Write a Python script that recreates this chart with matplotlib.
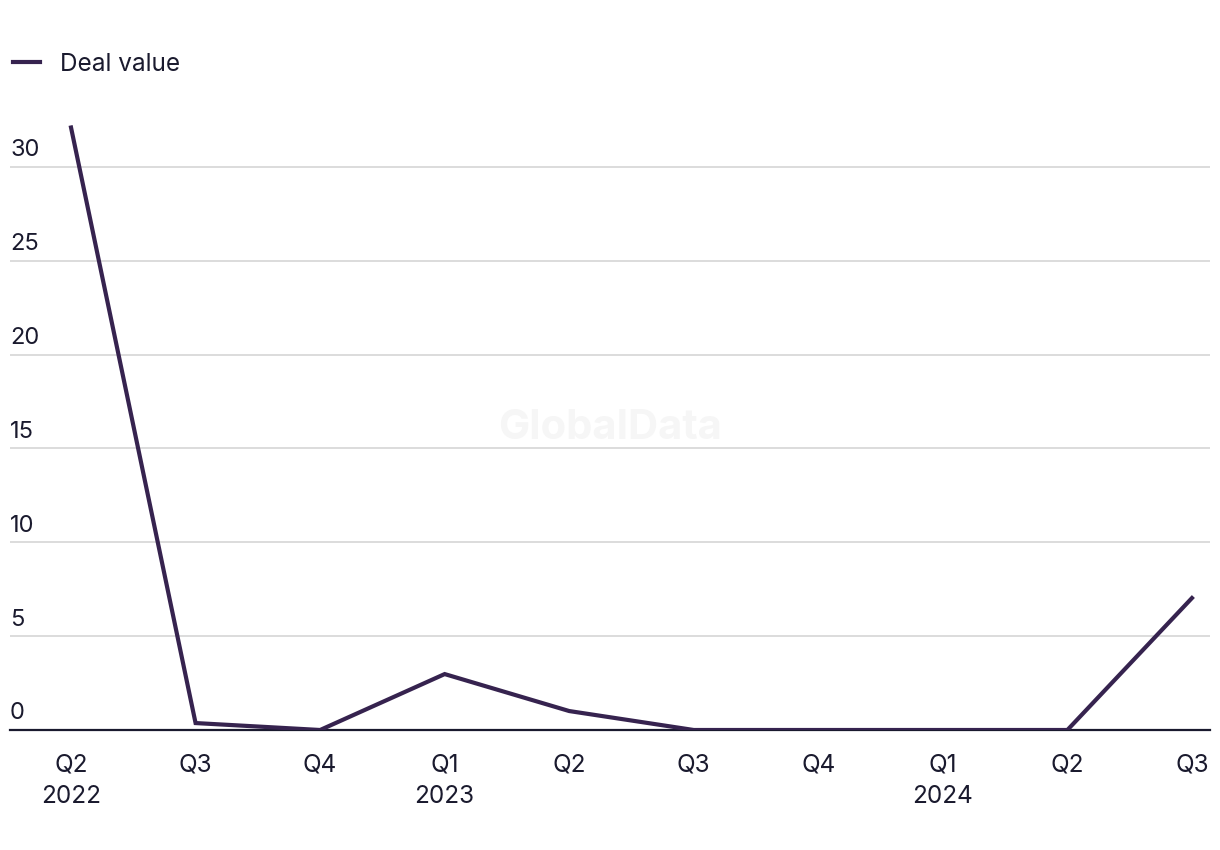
import numpy as np
import matplotlib.pyplot as plt

plt.rcParams['font.family'] = ['Inter', 'DejaVu Sans']

quarters = ['Q2\n2022', 'Q3', 'Q4', 'Q1\n2023', 'Q2', 'Q3', 'Q4', 'Q1\n2024', 'Q2', 'Q3']
deal_value = [32.1, 0.37, 0.0, 2.98, 1.01, 0.0, 0.0, 0.0, 0.0, 7.03]
yticks = [0, 5, 10, 15, 20, 25, 30]

lineColor = '#36234f'
textColor = '#1a1a2e'
gridColor = '#d6d6d6'

fig = plt.figure(figsize=(12.2, 8.5), dpi=100)
ax = fig.add_axes([10/1220, 1 - 730/850, 1200/1220, 610/850])

x = np.arange(len(quarters))
ax.plot(x, deal_value, color=lineColor, lw=3, solid_joinstyle='miter', zorder=3,
        label='Deal value')

ax.set_xlim(-0.49, 9.145)
ax.set_ylim(0, 32.5)
ax.set_yticks(yticks)
ax.set_yticklabels([])
ax.tick_params(axis='y', length=0)
ax.grid(axis='y', color=gridColor, lw=1.2)
ax.set_axisbelow(True)
for yt in yticks:
    ax.text(0, yt + 0.3, str(yt), transform=ax.get_yaxis_transform(),
            ha='left', va='bottom', fontsize=17, color=textColor)

ax.set_xticks(x)
ax.set_xticklabels(quarters, fontsize=17.5, color=textColor, linespacing=1.45)
ax.tick_params(axis='x', length=0, pad=17)

for s in ['top', 'right', 'left']:
    ax.spines[s].set_visible(False)
ax.spines['bottom'].set_color(textColor)
ax.spines['bottom'].set_linewidth(1.6)

ax.text(0.5, 0.497, 'GlobalData', transform=fig.transFigure, ha='center', va='center',
        fontsize=30, fontweight='bold', color='#f6f6f6', zorder=0)

fig.legend(loc='upper left', bbox_to_anchor=(-9/1220, 1 - 31/850), frameon=False,
           fontsize=17.5, handlelength=1.1, handletextpad=0.85, labelcolor=textColor)

fig.savefig('out.png', dpi=100, facecolor='white')
